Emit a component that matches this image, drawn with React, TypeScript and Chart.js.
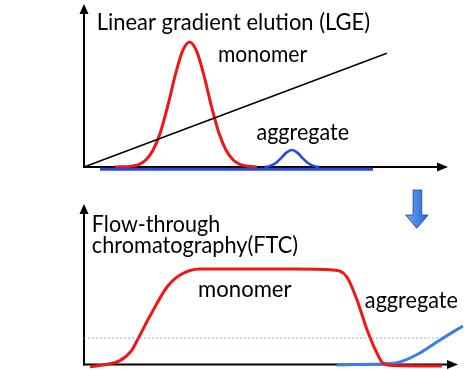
import React, { useEffect, useRef } from "react";
import { Chart, registerables } from "chart.js";

Chart.register(...registerables);

// ---------- Top panel: Linear gradient elution (LGE) ----------
const lgeGradientX = [0, 83.2];
const lgeGradientY = [0, 69.8];

const lgeMonomerX = [8.5, 13, 15, 17, 19, 21, 23, 25, 27, 29, 31, 33, 35, 37, 39, 41, 43, 45, 47.5];
const lgeMonomerY = [0, 0.5, 1.5, 4.3, 10.4, 21.3, 37.3, 55.7, 70.8, 76.7, 70.8, 55.7, 37.3, 21.3, 10.4, 4.3, 1.5, 0.5, 0];

const lgeAggBaseX = [4.4, 79.4];
const lgeAggBaseY = [-1.4, -1.4];

const lgeAggPeakX = [49.6, 51.1, 52.6, 54.1, 55.6, 57.1, 58.6, 60.1, 61.6, 63.1, 64.6];
const lgeAggPeakY = [0, 0.7, 2.3, 5.3, 8.8, 10.4, 8.8, 5.3, 2.3, 0.7, 0];

// ---------- Bottom panel: Flow-through chromatography (FTC) ----------
const ftcMonomerX = [1.6, 5.1, 9.6, 12.8, 14.5, 17.6, 22.2, 25.7, 31, 55.9, 66.6, 70.3, 73, 75.7, 78.3, 79.9, 82.6, 95.7];
const ftcMonomerY = [-1.4, -0.3, 2.4, 9, 16.3, 30, 48.3, 55.8, 59.5, 59.5, 58.9, 54.5, 40.2, 21.5, 7.2, 0.9, -0.6, -0.9];

const ftcAggX = [67.6, 79.1, 84.5, 89.8, 95.2, 101.3];
const ftcAggY = [-0.3, 0.3, 1.6, 7.2, 15.3, 24];

const ftcThresholdX = [0, 95.2];
const ftcThresholdY = [16.5, 16.5];

// labels: text, left/right x and baseline y in data units
const lgeLabels = [
  { text: "Linear gradient elution (LGE)", x0: 3.5, x1: 78.6, y: 84 },
  { text: "monomer", x0: 36.8, x1: 61.3, y: 64.6 },
  { text: "aggregate", x0: 47.4, x1: 72.8, y: 16.6 },
];
const ftcLabels = [
  { text: "Flow-through", x0: 2.1, x1: 36.4, y: 82.7 },
  { text: "chromatography(FTC)", x0: 2.1, x1: 57.2, y: 69.3 },
  { text: "monomer", x0: 30.5, x1: 55.5, y: 42.2 },
  { text: "aggregate", x0: 75.1, x1: 100, y: 35 },
];

const RED = "rgb(240,22,22)";
const BLUE_DARK = "rgb(40,72,222)";
const BLUE_LIGHT = "rgb(55,128,232)";

const pts = (xs: number[], ys: number[]) => xs.map((x, i) => ({ x, y: ys[i] }));

function drawArrowAxes(chart: any) {
  const { ctx, chartArea } = chart;
  const { left, right, top, bottom } = chartArea;
  ctx.save();
  ctx.strokeStyle = "#000";
  ctx.fillStyle = "#000";
  ctx.lineWidth = 2;
  ctx.beginPath();
  ctx.moveTo(left, bottom + 1);
  ctx.lineTo(left, top + 8);
  ctx.stroke();
  ctx.beginPath();
  ctx.moveTo(left, top);
  ctx.lineTo(left - 4.5, top + 10);
  ctx.lineTo(left + 4.5, top + 10);
  ctx.closePath();
  ctx.fill();
  ctx.beginPath();
  ctx.moveTo(left - 1, bottom);
  ctx.lineTo(right - 8, bottom);
  ctx.stroke();
  ctx.beginPath();
  ctx.moveTo(right, bottom);
  ctx.lineTo(right - 11, bottom - 4.5);
  ctx.lineTo(right - 11, bottom + 4.5);
  ctx.closePath();
  ctx.fill();
  ctx.restore();
}

function drawLabels(chart: any, labels: { text: string; x0: number; x1: number; y: number }[]) {
  const { ctx, scales } = chart;
  ctx.save();
  ctx.fillStyle = "#000";
  ctx.textBaseline = "alphabetic";
  ctx.textAlign = "left";
  ctx.font = "24px Lato, 'Open Sans', sans-serif";
  labels.forEach((l) => {
    const px0 = scales.x.getPixelForValue(l.x0);
    const px1 = scales.x.getPixelForValue(l.x1);
    const py = scales.y.getPixelForValue(l.y);
    const w = ctx.measureText(l.text).width;
    const sx = (px1 - px0) / w;
    ctx.save();
    ctx.translate(px0, py);
    ctx.scale(sx, 1);
    ctx.fillText(l.text, 0, 0);
    ctx.restore();
  });
  ctx.restore();
}

// down arrow between the panels (data units of the bottom panel)
const arrowShaftX = [88, 90.3];
const arrowHeadX = [86, 92];
const arrowY = [108.7, 93.1, 84.9];

function drawDownArrow(chart: any) {
  const { ctx, scales } = chart;
  const sx0 = scales.x.getPixelForValue(arrowShaftX[0]);
  const sx1 = scales.x.getPixelForValue(arrowShaftX[1]);
  const hx0 = scales.x.getPixelForValue(arrowHeadX[0]);
  const hx1 = scales.x.getPixelForValue(arrowHeadX[1]);
  const yTop = scales.y.getPixelForValue(arrowY[0]);
  const yHead = scales.y.getPixelForValue(arrowY[1]);
  const yTip = scales.y.getPixelForValue(arrowY[2]);
  ctx.save();
  const g = ctx.createLinearGradient(hx0, 0, hx1, 0);
  g.addColorStop(0, "rgb(120,170,245)");
  g.addColorStop(0.5, "rgb(70,135,230)");
  g.addColorStop(1, "rgb(45,100,200)");
  ctx.fillStyle = g;
  ctx.strokeStyle = "rgb(45,85,165)";
  ctx.lineWidth = 1;
  ctx.beginPath();
  ctx.moveTo(sx0, yTop);
  ctx.lineTo(sx1, yTop);
  ctx.lineTo(sx1, yHead);
  ctx.lineTo(hx1, yHead);
  ctx.lineTo((hx0 + hx1) / 2, yTip);
  ctx.lineTo(hx0, yHead);
  ctx.lineTo(sx0, yHead);
  ctx.closePath();
  ctx.fill();
  ctx.stroke();
  ctx.restore();
}

const baseOptions = (padding: any) => ({
  responsive: false,
  animation: false as const,
  devicePixelRatio: 1,
  layout: { padding },
  plugins: { legend: { display: false }, tooltip: { enabled: false } },
  scales: {
    x: { type: "linear" as const, min: 0, max: 100, display: false },
    y: { type: "linear" as const, min: 0, max: 100, display: false },
  },
  elements: { point: { radius: 0 } },
});

const lineDs = (data: any[], color: string, width: number, extra: any = {}) => ({
  data,
  borderColor: color,
  borderWidth: width,
  pointRadius: 0,
  fill: false,
  clip: false as const,
  cubicInterpolationMode: "monotone" as const,
  ...extra,
});

export default function App() {
  const topRef = useRef<HTMLCanvasElement>(null);
  const botRef = useRef<HTMLCanvasElement>(null);

  useEffect(() => {
    document.body.style.margin = "0";
    const top = new Chart(topRef.current!, {
      type: "line",
      data: {
        datasets: [
          lineDs(pts(lgeGradientX, lgeGradientY), "#000", 1.6, { cubicInterpolationMode: "default", tension: 0 }),
          lineDs(pts(lgeAggBaseX, lgeAggBaseY), BLUE_DARK, 3, { tension: 0 }),
          lineDs(pts(lgeMonomerX, lgeMonomerY), RED, 3),
          lineDs(pts(lgeAggPeakX, lgeAggPeakY), BLUE_DARK, 2.6),
        ],
      },
      options: baseOptions({ left: 84, right: 26, top: 4, bottom: 18 }) as any,
      plugins: [
        {
          id: "lgeDecor",
          beforeDatasetsDraw: (c: any) => drawArrowAxes(c),
          afterDatasetsDraw: (c: any) => drawLabels(c, lgeLabels),
        },
      ],
    });
    const bot = new Chart(botRef.current!, {
      type: "line",
      data: {
        datasets: [
          lineDs(pts(ftcThresholdX, ftcThresholdY), "rgb(140,175,225)", 1, {
            borderDash: [2, 2],
            tension: 0,
            cubicInterpolationMode: "default",
          }),
          lineDs(pts(ftcMonomerX, ftcMonomerY), RED, 3),
          lineDs(pts(ftcAggX, ftcAggY), BLUE_LIGHT, 3),
        ],
      },
      options: baseOptions({ left: 84, right: 16, top: 19, bottom: 5.5 }) as any,
      plugins: [
        {
          id: "ftcDecor",
          beforeDatasetsDraw: (c: any) => drawArrowAxes(c),
          afterDatasetsDraw: (c: any) => {
            drawLabels(c, ftcLabels);
            drawDownArrow(c);
          },
        },
      ],
    });
    return () => {
      top.destroy();
      bot.destroy();
    };
  }, []);

  return (
    <div style={{ position: "absolute", left: 0, top: 0, width: 474, height: 370, background: "#fff" }}>
      <canvas ref={topRef} width={474} height={185} style={{ position: "absolute", left: 0, top: 0 }} />
      <canvas ref={botRef} width={474} height={185} style={{ position: "absolute", left: 0, top: 185 }} />
    </div>
  );
}
